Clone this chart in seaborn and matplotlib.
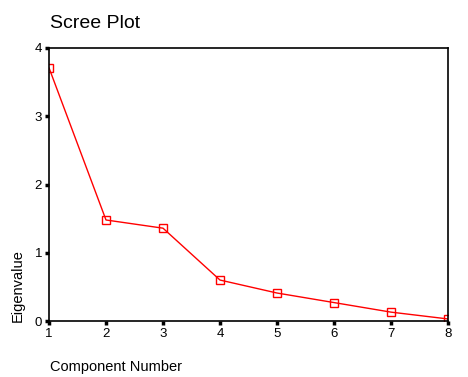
import matplotlib
matplotlib.use("Agg")
import matplotlib.pyplot as plt
import seaborn as sns
import pandas as pd

components = [1, 2, 3, 4, 5, 6, 7, 8]
eigenvalues = [3.71, 1.48, 1.36, 0.60, 0.41, 0.27, 0.13, 0.03]
xticks = [1, 2, 3, 4, 5, 6, 7, 8]
yticks = [0, 1, 2, 3, 4]

sns.set_style("white")
plt.rcParams['font.family'] = ['Liberation Sans', 'DejaVu Sans']
plt.rcParams['text.color'] = 'black'
plt.rcParams['xtick.color'] = 'black'
plt.rcParams['ytick.color'] = 'black'

df = pd.DataFrame({"Component Number": components, "Eigenvalue": eigenvalues})

fig = plt.figure(figsize=(4.68, 3.77), dpi=100)
ax = fig.add_axes([49/468, 56/377, 399/468, 273/377])
sns.lineplot(data=df, x="Component Number", y="Eigenvalue", ax=ax,
             color="#ff0000", linewidth=1.0, marker="s", markersize=5.2,
             markerfacecolor="none", markeredgecolor="#ff0000", markeredgewidth=1.0)
ax.set_xlim(1, 8)
ax.set_ylim(0, 4)
ax.set_xticks(xticks)
ax.set_yticks(yticks)
ax.tick_params(axis="both", direction="out", length=3, width=2.5, color="black",
               labelcolor="black", labelsize=9.5, pad=2, bottom=True, left=True)
for s in ax.spines.values():
    s.set_color("black")
    s.set_linewidth(1.2)
ax.set_xlabel("")
ax.set_ylabel("")
fig.text(18/468, 1 - 322/377, "Eigenvalue", rotation=90, ha="center", va="bottom",
         fontsize=10.5, color="black")
fig.text(50/468, 1 - 367/377, "Component Number", ha="left", va="center",
         fontsize=10.5, color="black")
fig.text(50/468, 1 - 23/377, "Scree Plot", ha="left", va="center",
         fontsize=14, color="black")
fig.savefig("out.png", dpi=100)
